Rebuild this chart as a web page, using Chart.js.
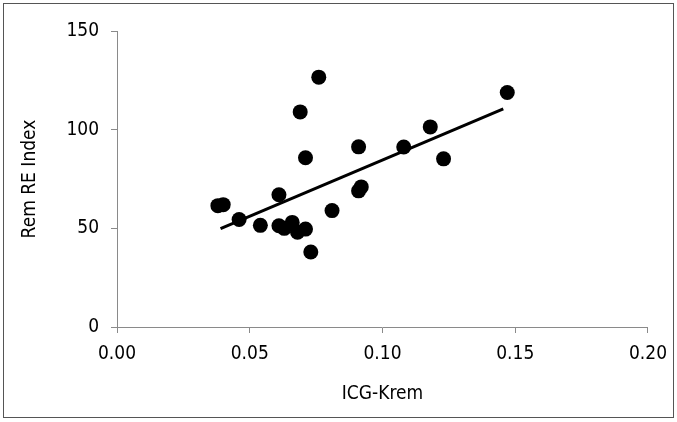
<!DOCTYPE html>
<html>
<head>
<meta charset="utf-8">
<script src="https://cdn.jsdelivr.net/npm/chart.js@4/dist/chart.umd.min.js"></script>
<style>
  html, body { margin: 0; padding: 0; background: #fff; }
  #wrap { width: 677px; height: 422px; position: relative; }
</style>
</head>
<body>
<div id="wrap"><canvas id="c"></canvas></div>
<script>
// values
const icgKrem = [0.038, 0.040, 0.046, 0.054, 0.061, 0.061, 0.063, 0.066, 0.068, 0.069, 0.071,
                 0.071, 0.073, 0.076, 0.081, 0.091, 0.091, 0.092, 0.108, 0.118, 0.123, 0.147];
const remReIndex = [61.5, 62, 54.5, 51.5, 67, 51.3, 50, 53, 48, 109, 49.6,
                    85.8, 38, 126.6, 59, 91.3, 69, 71, 91.2, 101.4, 85.2, 118.8];

// fitted trend line end points
const trendX = [0.039, 0.1455];
const trendY = [49.8, 110.5];

const xTickLabels = ['0.00', '0.05', '0.10', '0.15', '0.20'];
const yTickLabels = ['0', '50', '100', '150'];

const FONT = "'DejaVu Sans Condensed', 'DejaVu Sans', sans-serif";
const AXIS_GRAY = '#8a8a8a';
const TEXT = '#000';

const framePlugin = {
  id: 'frame',
  afterDraw(chart) {
    const ctx = chart.ctx;
    ctx.save();
    ctx.strokeStyle = '#555';
    ctx.lineWidth = 1;
    ctx.strokeRect(3.5, 3.5, 670, 414);
    ctx.restore();
  }
};

const points = icgKrem.map((x, i) => ({ x: x, y: remReIndex[i] }));
const trend = trendX.map((x, i) => ({ x: x, y: trendY[i] }));

new Chart(document.getElementById('c'), {
  type: 'scatter',
  data: {
    datasets: [
      {
        label: 'Trend',
        type: 'line',
        data: trend,
        borderColor: '#000',
        borderWidth: 3,
        pointRadius: 0,
        fill: false
      },
      {
        label: 'Rem RE Index',
        data: points,
        pointStyle: 'circle',
        pointRadius: 7.5,
        backgroundColor: '#000',
        borderColor: '#000',
        borderWidth: 0
      }
    ]
  },
  options: {
    responsive: true,
    maintainAspectRatio: false,
    animation: false,
    layout: {
      padding: { top: 31, right: 29, bottom: 0, left: 0 }
    },
    plugins: {
      legend: { display: false },
      tooltip: { enabled: false }
    },
    scales: {
      x: {
        type: 'linear',
        min: 0,
        max: 0.2,
        afterBuildTicks: (axis) => {
          axis.ticks = xTickLabels.map(v => ({ value: parseFloat(v) }));
        },
        afterFit: (axis) => { axis.height = 95; },
        ticks: {
          callback: (v, i) => xTickLabels[i],
          color: TEXT,
          padding: 10,
          maxRotation: 0,
          font: { family: FONT, size: 19 }
        },
        grid: {
          drawOnChartArea: false,
          drawTicks: true,
          tickLength: 6,
          color: AXIS_GRAY
        },
        border: { color: AXIS_GRAY, width: 1 },
        title: {
          display: true,
          text: 'ICG-Krem',
          color: TEXT,
          font: { family: FONT, size: 19 },
          padding: { top: 0, bottom: 17 }
        }
      },
      y: {
        min: 0,
        max: 150,
        afterBuildTicks: (axis) => {
          axis.ticks = yTickLabels.map(v => ({ value: Number(v) }));
        },
        afterFit: (axis) => { axis.width = 117; },
        ticks: {
          callback: (v, i) => yTickLabels[i],
          color: TEXT,
          padding: 12,
          font: { family: FONT, size: 19 }
        },
        grid: {
          drawOnChartArea: false,
          drawTicks: true,
          tickLength: 6,
          color: AXIS_GRAY
        },
        border: { color: AXIS_GRAY, width: 1 },
        title: {
          display: true,
          text: 'Rem RE Index',
          color: TEXT,
          font: { family: FONT, size: 19 },
          padding: { top: 19, bottom: 0 }
        }
      }
    }
  },
  plugins: [framePlugin]
});
</script>
</body>
</html>
